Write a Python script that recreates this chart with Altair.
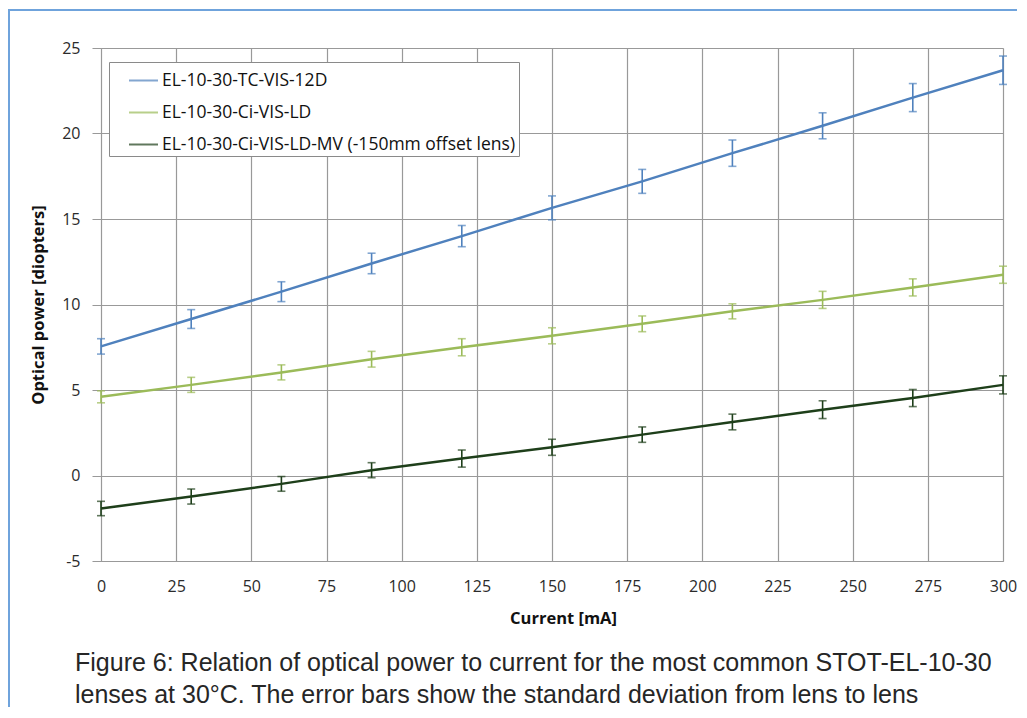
import altair as alt
import pandas as pd

# ---- data ----
current = [0, 30, 60, 90, 120, 150, 180, 210, 240, 270, 300]
series_names = [
    "EL-10-30-TC-VIS-12D",
    "EL-10-30-Ci-VIS-LD",
    "EL-10-30-Ci-VIS-LD-MV (-150mm offset lens)",
]
series_colors = ["#4F81BD", "#9BBB59", "#1E3F1A"]

tc_power = [7.55, 9.15, 10.75, 12.4, 14.0, 15.65, 17.2, 18.85, 20.45, 22.1, 23.7]
tc_err = [0.45, 0.55, 0.58, 0.6, 0.62, 0.7, 0.7, 0.77, 0.76, 0.82, 0.83]
ci_power = [4.6, 5.3, 6.03, 6.8, 7.5, 8.17, 8.87, 9.6, 10.27, 11.0, 11.74]
ci_err = [0.35, 0.44, 0.44, 0.46, 0.5, 0.47, 0.46, 0.44, 0.5, 0.5, 0.5]
mv_power = [-1.93, -1.23, -0.49, 0.31, 0.99, 1.65, 2.39, 3.13, 3.85, 4.53, 5.3]
mv_err = [0.42, 0.44, 0.43, 0.44, 0.5, 0.47, 0.45, 0.46, 0.52, 0.5, 0.53]

x_ticks = [0, 25, 50, 75, 100, 125, 150, 175, 200, 225, 250, 275, 300]
y_ticks = [-5, 0, 5, 10, 15, 20, 25]

x_title = "Current [mA]"
y_title = "Optical power [diopters]"
caption = [
    "Figure 6: Relation of optical power to current for the most common STOT-EL-10-30",
    "lenses at 30\u00b0C. The error bars show the standard deviation from lens to lens",
]

rows = []
for name, vals, errs in zip(series_names, [tc_power, ci_power, mv_power], [tc_err, ci_err, mv_err]):
    for c, v, e in zip(current, vals, errs):
        rows.append({"series": name, "current": c, "power": v, "lo": v - e, "hi": v + e})
df = pd.DataFrame(rows)

GRID = "#999999"
FONT = "Open Sans"

x_axis = alt.Axis(
    values=x_ticks, title=x_title, grid=True, gridColor=GRID, gridWidth=1.2,
    ticks=False, domainColor=GRID, labelFont=FONT, labelFontSize=16, labelColor="#2b2b2b",
    labelPadding=17, labelFlush=False, titleFont=FONT, titleFontSize=16.5,
    titleFontWeight="bold", titleColor="#111111", titlePadding=16, titleX=462,
)
y_axis = alt.Axis(
    values=y_ticks, title=y_title, grid=True, gridColor=GRID, gridWidth=1.2,
    ticks=True, tickSize=9, tickColor=GRID, domainColor=GRID, labelFont=FONT,
    labelFontSize=16, labelColor="#2b2b2b", labelPadding=12, labelFlush=False,
    titleFont=FONT, titleFontSize=16.5, titleFontWeight="bold", titleColor="#111111",
    titlePadding=15, labelExpr="'' + datum.value",
)

xs = alt.X("current:Q", scale=alt.Scale(domain=[0, 300], nice=False, zero=False), axis=x_axis)
y_scale = alt.Scale(domain=[-5, 25], nice=False)

legend = alt.Legend(
    title=None, orient="none", legendX=8, legendY=14, direction="vertical",
    symbolType="stroke", symbolSize=841, symbolStrokeWidth=2, symbolOffset=16,
    labelFont=FONT, labelFontSize=17.5, labelColor="#111111", labelOffset=3,
    labelLimit=800, strokeColor="#8a8a8a", fillColor="white", padding=3, rowPadding=8,
)
color = alt.Color("series:N", scale=alt.Scale(domain=series_names, range=series_colors), legend=legend)

base = alt.Chart(df)

lines = base.mark_line(strokeWidth=2.5).encode(
    x=xs, y=alt.Y("power:Q", scale=y_scale, axis=y_axis), color=color
)
bars = base.mark_rule(strokeWidth=1.6).encode(
    x=xs, y=alt.Y("lo:Q", scale=y_scale, axis=y_axis), y2="hi:Q", color=color
)
cap_lo = base.mark_tick(orient="horizontal", size=8, thickness=1.6).encode(
    x=xs, y=alt.Y("lo:Q", scale=y_scale, axis=y_axis), color=color
)
cap_hi = base.mark_tick(orient="horizontal", size=8, thickness=1.6).encode(
    x=xs, y=alt.Y("hi:Q", scale=y_scale, axis=y_axis), color=color
)

frame = alt.Chart(alt.Data(values=[{"f": 1}])).mark_rect(
    filled=False, stroke="#6FA3DC", strokeWidth=2
).encode(x=alt.value(-92), x2=alt.value(960), y=alt.value(-38), y2=alt.value(720))

caption_text = alt.Chart(alt.Data(values=[{"t": "\n".join(caption)}])).mark_text(
    lineBreak="\n", align="left", baseline="top", lineHeight=32,
    font="Liberation Sans", fontSize=25, color="#262626",
).encode(text="t:N", x=alt.value(-26), y=alt.value(603))

chart = alt.layer(frame, lines, bars, cap_lo, cap_hi, caption_text).properties(
    width=902,
    height=513,
    autosize=alt.AutoSizeParams(type="none"),
    padding={"left": 93, "top": 40, "right": 14, "bottom": 146},
).configure_view(stroke=GRID, strokeWidth=1.2).configure(background="white")

chart.save("out.html", embed_options={"renderer": "svg", "actions": False})
